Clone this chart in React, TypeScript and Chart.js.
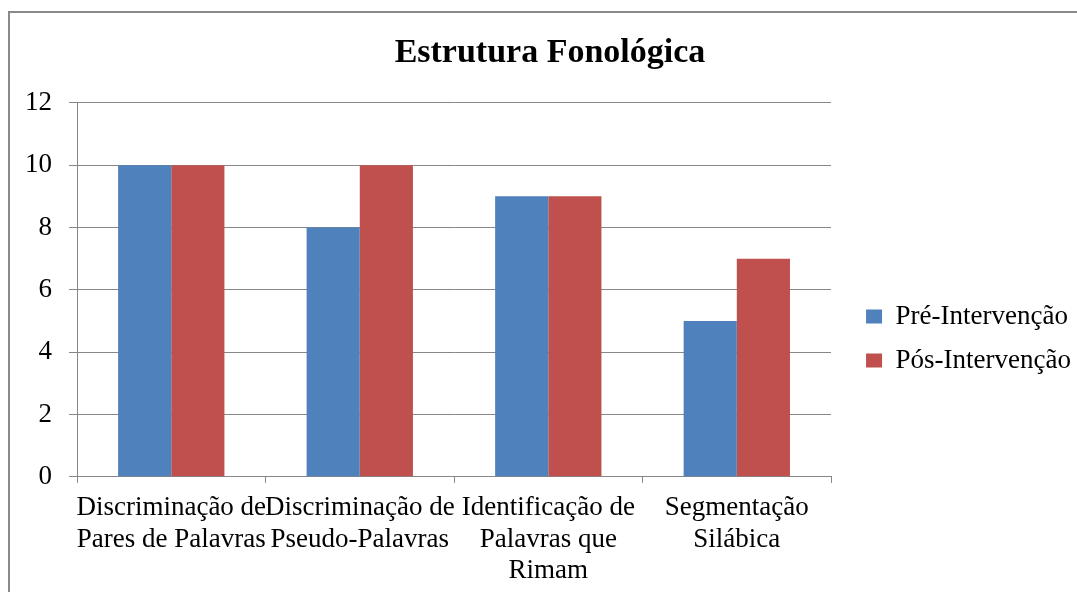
import React, { useEffect, useRef } from "react";
import { Chart, registerables } from "chart.js";

Chart.register(...registerables);

const chartTitle = "Estrutura Fonológica";
const categories: string[][] = [
  ["Discriminação de", "Pares de Palavras"],
  ["Discriminação de", "Pseudo-Palavras"],
  ["Identificação de", "Palavras que", "Rimam"],
  ["Segmentação", "Silábica"],
];
const seriesNames = ["Pré-Intervenção", "Pós-Intervenção"];
const preValues = [10, 8, 9, 5];
const posValues = [10, 10, 9, 7];
const yTicks = [0, 2, 4, 6, 8, 10, 12];

const GRAY = "#878787";
const FONT = "'Liberation Serif', 'Times New Roman', serif";

const nudge = {
  id: "nudge",
  afterLayout(chart: any) {
    const lg = chart.legend;
    if (lg) {
      lg.left += 18;
      lg.right += 18;
      lg.top += 34;
      lg.bottom += 34;
    }
    const t = chart.titleBlock;
    if (t) {
      t.left += 6;
      t.right += 6;
    }
  },
};

export default function App() {
  const ref = useRef<HTMLCanvasElement | null>(null);

  useEffect(() => {
    if (!ref.current) return;
    const chart = new Chart(ref.current, {
      type: "bar",
      data: {
        labels: categories,
        datasets: [
          {
            label: seriesNames[0],
            data: preValues,
            backgroundColor: "#4F81BD",
            borderWidth: 0,
          },
          {
            label: seriesNames[1],
            data: posValues,
            backgroundColor: "#C0504D",
            borderWidth: 0,
          },
        ],
      },
      options: {
        animation: false,
        responsive: true,
        maintainAspectRatio: false,
        devicePixelRatio: 1,
        layout: { padding: { left: 15, right: 18, top: 0, bottom: 0 } },
        datasets: {
          bar: { categoryPercentage: 0.564, barPercentage: 1 },
        },
        plugins: {
          title: {
            display: true,
            text: chartTitle,
            color: "#000",
            font: { family: FONT, size: 34, weight: "bold", lineHeight: 1.2 },
            padding: { top: 20, bottom: 29 },
          },
          legend: {
            display: true,
            position: "right",
            labels: {
              color: "#000",
              font: { family: FONT, size: 27 },
              boxWidth: 16,
              boxHeight: 14,
              padding: 17,
            },
          },
          tooltip: { enabled: false },
        },
        scales: {
          x: {
            afterFit: (scale: any) => {
              scale.paddingLeft = 0;
              scale.paddingRight = 0;
            },
            grid: {
              display: true,
              drawOnChartArea: false,
              drawTicks: true,
              tickLength: 6,
              offset: true,
              color: GRAY,
              lineWidth: 1,
            },
            border: { display: true, color: GRAY, width: 1 },
            ticks: {
              color: "#000",
              font: { family: FONT, size: 27, lineHeight: 1.15 },
              padding: 10,
              maxRotation: 0,
              minRotation: 0,
              autoSkip: false,
            },
          },
          y: {
            min: 0,
            max: 12,
            afterBuildTicks: (scale: any) => {
              scale.ticks = yTicks.map((v) => ({ value: v }));
            },
            afterFit: (scale: any) => {
              scale.width = 52;
            },
            grid: {
              color: GRAY,
              lineWidth: 1,
              drawTicks: true,
              tickLength: 8,
            },
            border: { display: true, color: GRAY, width: 1 },
            ticks: {
              color: "#000",
              font: { family: FONT, size: 27 },
              padding: 17,
            },
          },
        },
      },
      plugins: [nudge],
    } as any);
    return () => chart.destroy();
  }, []);

  return (
    <div
      style={{
        position: "fixed",
        left: 0,
        top: 0,
        width: 1077,
        height: 592,
        overflow: "hidden",
        background: "#fff",
      }}
    >
      <div
        style={{
          position: "absolute",
          left: 8,
          top: 11,
          width: 1200,
          height: 700,
          borderTop: "2px solid #898989",
          borderLeft: "2px solid #898989",
        }}
      />
      <div
        style={{
          position: "absolute",
          left: 10,
          top: 13,
          width: 1071,
          height: 583,
        }}
      >
        <canvas ref={ref} />
      </div>
    </div>
  );
}
